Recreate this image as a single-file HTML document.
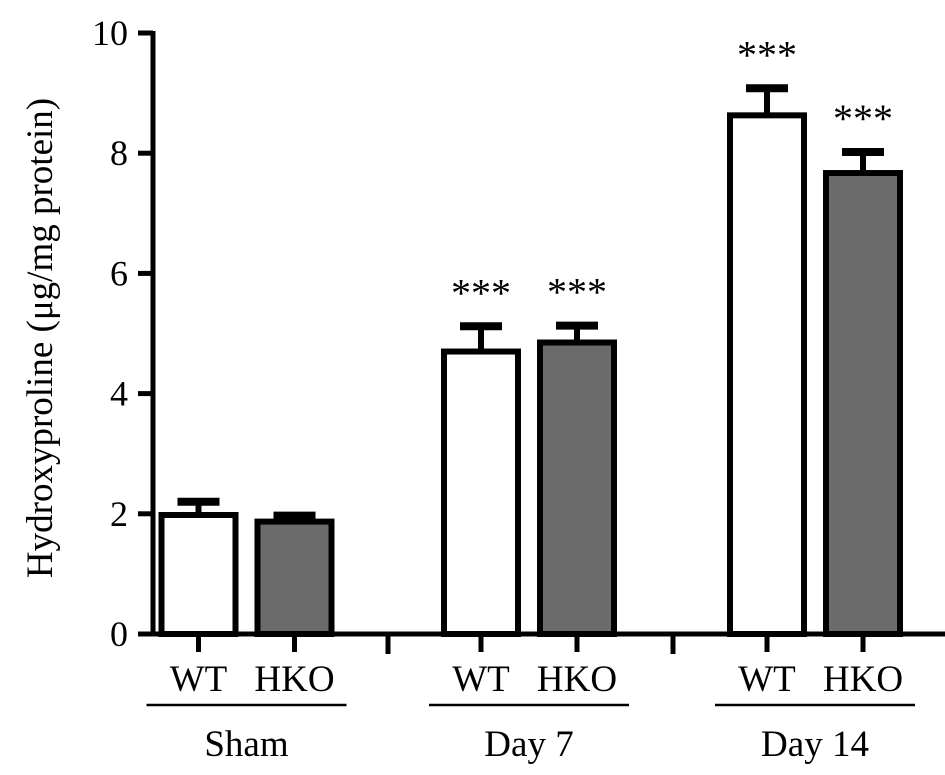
<!DOCTYPE html>
<html><head><meta charset="utf-8"><style>
body{margin:0;background:#fff}
svg{display:block;font-family:"Liberation Serif",serif}
</style></head><body>
<svg id="chart" width="945" height="775"></svg>
<script>
const groups=["Sham","Day 7","Day 14"];
const series=["WT","HKO"];
const means=[[1.98,1.87],[4.70,4.85],[8.63,7.67]];
const errs=[[0.22,0.10],[0.42,0.28],[0.45,0.35]];
const stars=[["",""],["***","***"],["***","***"]];
const yTicks=[0,2,4,6,8,10];
const NS="http://www.w3.org/2000/svg";
const svg=document.getElementById('chart');
const y0=634,ppu=60.1,axX=153;
const y=v=>y0-v*ppu;
const groupStart=[198.5,481,767],barGap=96,barW=74;
function el(t,a,p){const e=document.createElementNS(NS,t);for(const k in a)e.setAttribute(k,a[k]);(p||svg).appendChild(e);return e;}
let ya=el('line',{x1:axX,y1:y(10)-2,x2:axX,y2:y0+2,stroke:'#000','stroke-width':5});


let xa=el('line',{x1:axX-2,y1:y0,x2:945,y2:y0,stroke:'#000','stroke-width':5});


yTicks.forEach(t=>{
 let l=el('line',{x1:axX-15,y1:y(t),x2:axX,y2:y(t),stroke:'#000','stroke-width':5});
 
 
 let tx=el('text',{x:128,y:y(t)+12,'text-anchor':'end','font-size':36});
 tx.textContent=t;
 
 
});
[388,673].forEach(x=>{let l=el('line',{x1:x,y1:y0,x2:x,y2:y0+20,stroke:'#000','stroke-width':5});
 
 });
groups.forEach((g,gi)=>{
 series.forEach((s,si)=>{
  const cx=groupStart[gi]+si*barGap,v=means[gi][si],e=errs[gi][si];
  let eb=el('line',{x1:cx,y1:y(v),x2:cx,y2:y(v+e),stroke:'#000','stroke-width':6});
  
  
  let cap=el('line',{x1:cx-21,y1:y(v+e),x2:cx+21,y2:y(v+e),stroke:'#000','stroke-width':8});
  
  
  let r=el('rect',{x:cx-barW/2,y:y(v),width:barW,height:y0-y(v),fill:si?'#6b6b6b':'#fff',stroke:'#000','stroke-width':6});
  
  
  let tk=el('line',{x1:cx,y1:y0,x2:cx,y2:y0+18,stroke:'#000','stroke-width':5});
  
  
  let lb=el('text',{x:cx,y:691,'text-anchor':'middle','font-size':37});
  lb.textContent=s;
  
  
  if(stars[gi][si]){let st=el('text',{x:cx,y:y(v+e)-20,'text-anchor':'middle','font-size':40});
   st.textContent=stars[gi][si];
   
   }
 });
 const c=groupStart[gi]+barGap/2;
 let ul=el('line',{x1:c-100,y1:705,x2:c+100,y2:705,stroke:'#000','stroke-width':2.5});
 
 
 let gl=el('text',{x:c,y:756,'text-anchor':'middle','font-size':37});
 gl.textContent=g;
 
 
});
let yt=el('text',{x:0,y:0,'text-anchor':'middle','font-size':37,transform:'translate(52,338) rotate(-90)'});
yt.textContent='Hydroxyproline (μg/mg protein)';


</script>
</body></html>
